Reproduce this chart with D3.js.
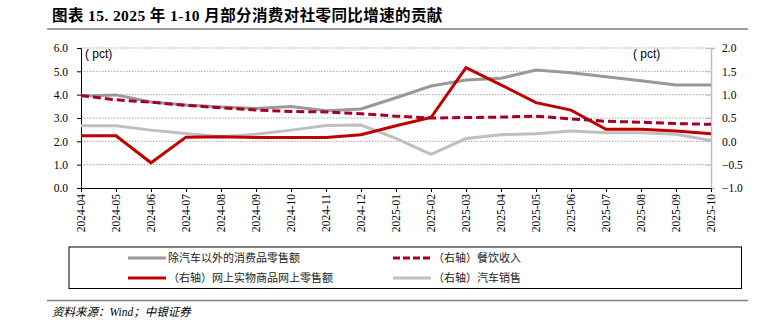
<!DOCTYPE html>
<html><head><meta charset="utf-8">
<script src="https://cdn.jsdelivr.net/npm/d3@7"></script>
<style>body{margin:0;background:#fff}svg{display:block}</style>
</head><body>
<svg id="c" width="763" height="322"></svg>
<script>
const months = ["2024-04","2024-05","2024-06","2024-07","2024-08","2024-09","2024-10","2024-11","2024-12","2025-01","2025-02","2025-03","2025-04","2025-05","2025-06","2025-07","2025-08","2025-09","2025-10"];
const exAuto = [3.94,3.99,3.69,3.56,3.47,3.41,3.49,3.31,3.39,3.87,4.37,4.63,4.70,5.06,4.94,4.77,4.60,4.41,4.41];
const catering = [0.98,0.89,0.84,0.77,0.72,0.67,0.64,0.63,0.59,0.54,0.50,0.51,0.52,0.54,0.48,0.43,0.41,0.38,0.365];
const online = [0.12,0.12,-0.46,0.09,0.10,0.08,0.08,0.08,0.14,0.335,0.51,1.58,1.21,0.83,0.67,0.26,0.26,0.22,0.16];
const autos = [0.335,0.335,0.24,0.17,0.10,0.15,0.24,0.34,0.35,0.065,-0.28,0.06,0.14,0.16,0.22,0.185,0.185,0.15,0.02];
const leftTicks = [0,1,2,3,4,5,6];
const rightTicks = [-1,-0.5,0,0.5,1,1.5,2];
const title = "图表 15. 2025 年 1-10 月部分消费对社零同比增速的贡献";
const source = "资料来源：Wind；中银证券";
const names = ["除汽车以外的消费品零售额","（右轴）餐饮收入","（右轴）网上实物商品网上零售额","（右轴）汽车销售"];

const svg = d3.select("#c");
const L = 81, R = 711, T = 48, B = 188;
const x = d3.scalePoint().domain(months).range([L, R]);
const yl = d3.scaleLinear().domain([0, 6]).range([B, T]);
const yr = d3.scaleLinear().domain([-1, 2]).range([B, T]);
const serif = "'Liberation Serif','Times New Roman',serif";
const cjk = "'Liberation Serif','Noto Sans CJK SC',serif";

// title
svg.append("text").attr("x", 52).attr("y", 21).attr("font-family", cjk).attr("font-weight", "bold")
  .attr("font-size", 15.5).attr("letter-spacing", 0.4).attr("fill", "#000").text(title);
svg.append("line").attr("x1", 47).attr("x2", 748).attr("y1", 29).attr("y2", 29).attr("stroke", "#7f7f7f").attr("stroke-width", 1.5);

// gridlines
svg.append("g").selectAll("line").data(leftTicks.filter(d => d > 0)).join("line")
  .attr("x1", L).attr("x2", R).attr("y1", d => yl(d)).attr("y2", d => yl(d))
  .attr("stroke", "#8c8c8c").attr("stroke-width", 0.8).attr("stroke-dasharray", "1.5,1.5");

// left axis
const ga = svg.append("g").attr("transform", `translate(${L},0)`)
  .call(d3.axisLeft(yl).tickValues(leftTicks).tickFormat(d3.format(".1f")).tickSize(4).tickPadding(9));
ga.select(".domain").attr("stroke", "#000");
ga.selectAll("text").attr("font-family", serif).attr("font-size", 11.5).attr("fill", "#000");

// right axis
const gr = svg.append("g").attr("transform", `translate(${R},0)`)
  .call(d3.axisRight(yr).tickValues(rightTicks).tickFormat(d3.format(".1f")).tickSize(4).tickPadding(7));
gr.select(".domain").attr("stroke", "#bfbfbf").attr("stroke-width", 1.5);
gr.selectAll(".tick line").attr("stroke", "#bfbfbf").attr("x2", -5);
gr.selectAll("text").attr("font-family", serif).attr("font-size", 11.5).attr("fill", "#000");

// bottom axis
const gb = svg.append("g").attr("transform", `translate(0,${B})`)
  .call(d3.axisBottom(x).tickSize(4).tickPadding(0).tickSizeOuter(0));
gb.select(".domain").attr("stroke", "#000");
gb.selectAll("text").attr("font-family", serif).attr("font-size", 11.5).attr("fill", "#000")
  .attr("transform", "rotate(-90)").attr("text-anchor", "end").attr("dx", "-6").attr("dy", "0.32em").attr("y", 0).attr("x", 0);

// pct labels
svg.append("text").attr("x", 85).attr("y", 58).attr("font-family", "'Liberation Sans',Arial,sans-serif").attr("font-size", 12).text("( pct)");
svg.append("text").attr("x", 633).attr("y", 58).attr("font-family", "'Liberation Sans',Arial,sans-serif").attr("font-size", 12).text("( pct)");

// lines
const lineL = d3.line().x((d, i) => x(months[i])).y(d => yl(d));
const lineR = d3.line().x((d, i) => x(months[i])).y(d => yr(d));
const series = [
  {data: autos, gen: lineR, color: "#bfbfbf", dash: null},
  {data: exAuto, gen: lineL, color: "#999999", dash: null},
  {data: online, gen: lineR, color: "#c00000", dash: null},
  {data: catering, gen: lineR, color: "#a50021", dash: "8,4"}
];
svg.append("g").selectAll("path").data(series).join("path")
  .attr("d", d => d.gen(d.data)).attr("fill", "none").attr("stroke", d => d.color)
  .attr("stroke-width", 3).attr("stroke-dasharray", d => d.dash);

// legend box
svg.append("rect").attr("x", 69).attr("y", 247).attr("width", 672.5).attr("height", 41.5)
  .attr("fill", "none").attr("stroke", "#000").attr("stroke-width", 1);
const leg = [
  {name: names[0], x: 128, y: 258, color: "#999999", dash: null},
  {name: names[1], x: 393, y: 258, color: "#a50021", dash: "7,3"},
  {name: names[2], x: 128, y: 278, color: "#c00000", dash: null},
  {name: names[3], x: 393, y: 278, color: "#bfbfbf", dash: null}
];
const lg = svg.append("g").selectAll("g").data(leg).join("g");
lg.append("line").attr("x1", d => d.x).attr("x2", d => d.x + 38).attr("y1", d => d.y).attr("y2", d => d.y)
  .attr("stroke", d => d.color).attr("stroke-width", 3).attr("stroke-dasharray", d => d.dash);
lg.append("text").attr("x", d => d.x + 40).attr("y", d => d.y + 4).attr("font-family", cjk)
  .attr("font-size", 11).attr("fill", "#222").text(d => d.name);

svg.append("line").attr("x1", 47).attr("x2", 748).attr("y1", 300.5).attr("y2", 300.5).attr("stroke", "#7f7f7f").attr("stroke-width", 1.5);
svg.append("text").attr("x", 52).attr("y", 316).attr("font-family", cjk).attr("font-style", "italic")
  .attr("font-size", 11.5).attr("fill", "#000").text(source);
</script>
</body></html>
